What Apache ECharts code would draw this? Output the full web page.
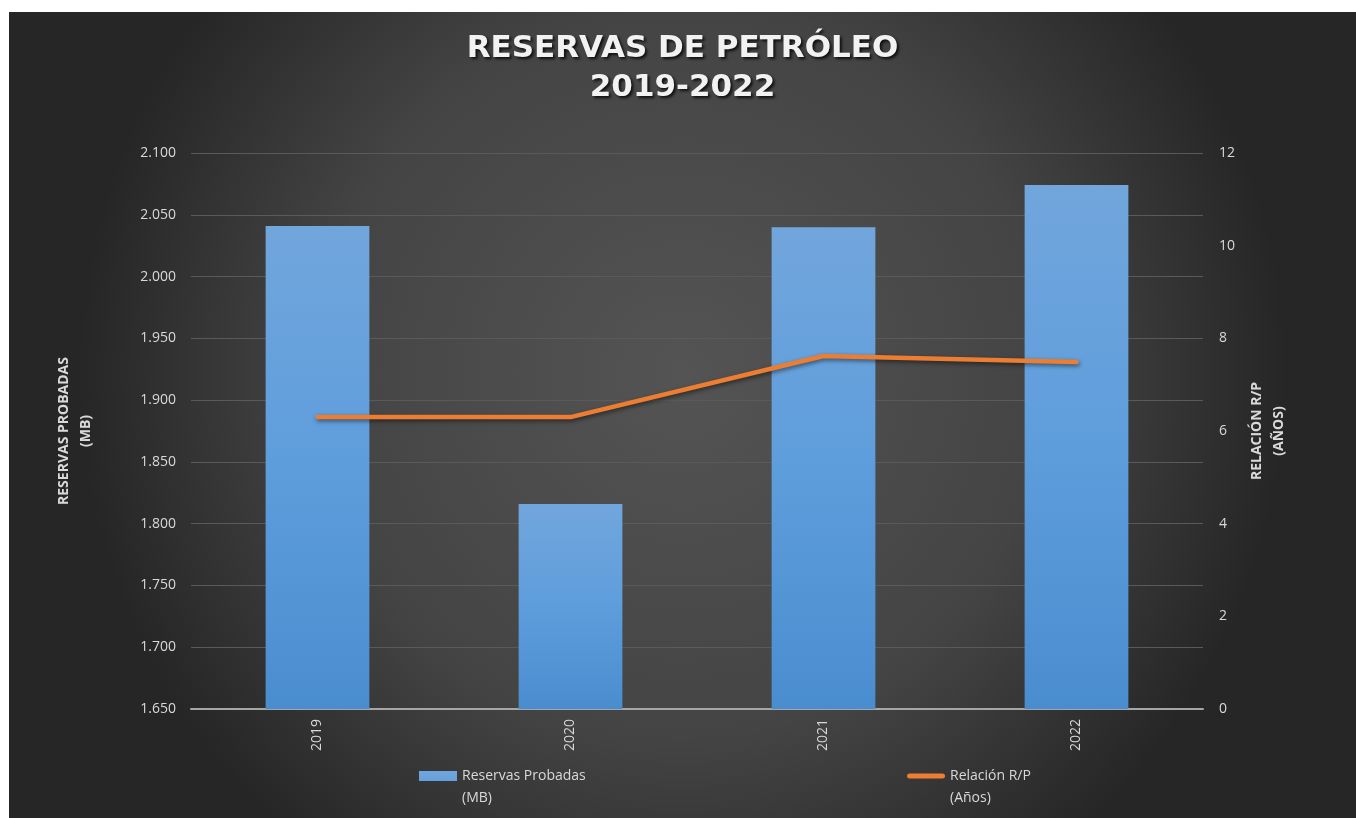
<!DOCTYPE html>
<html>
<head>
<meta charset="utf-8">
<script src="https://cdn.jsdelivr.net/npm/echarts@6/dist/echarts.min.js"></script>
<style>
  html, body { margin: 0; padding: 0; background: #ffffff; }
  #chart { position: absolute; left: 9px; top: 12px; width: 1347px; height: 806px; }
</style>
</head>
<body>
<div id="chart"></div>
<script>
const years = ['2019', '2020', '2021', '2022']
const reservas = [2.041, 1.816, 2.040, 2.074]
const relacionRP = [6.3, 6.3, 7.62, 7.49]
const leftTicks = { min: 1.65, max: 2.1, interval: 0.05 }
const rightTicks = { min: 0, max: 12, interval: 2 }

const chart = echarts.init(document.getElementById('chart'))
const LabelColor = '#d9d9d9'
const fontFamily = 'Open Sans, Calibri, sans-serif'

// legend icons sit on the first line of a two-line label, so the path bbox is padded downwards
const barIcon = 'path://M0,0 L38,0 L38,10 L0,10 Z M0,32 L0,32'
const lineIcon = 'path://M2.5,2.5 L35.5,2.5 A2.5,2.5 0 0 1 35.5,7.5 L2.5,7.5 A2.5,2.5 0 0 1 2.5,2.5 Z M0,0 L0,0 M0,32 L0,32'

const option = {
  backgroundColor: new echarts.graphic.RadialGradient(0.5, 0.45, 0.75, [
    { offset: 0, color: '#545454' },
    { offset: 0.6, color: '#444444' },
    { offset: 1, color: '#262626' }
  ]),
  textStyle: { fontFamily: fontFamily },
  title: {
    text: 'RESERVAS DE PETRÓLEO\n2019-2022',
    left: 'center',
    top: 12,
    textStyle: {
      color: '#f2f2f2',
      fontSize: 31,
      fontWeight: 'bold',
      lineHeight: 39,
      fontFamily: 'DejaVu Sans',
      textShadowColor: 'rgba(0,0,0,0.8)',
      textShadowBlur: 3,
      textShadowOffsetX: 2,
      textShadowOffsetY: 2
    }
  },
  grid: { left: 182, right: 153, top: 141, bottom: 109 },
  legend: [
    {
      left: 405,
      top: 748,
      itemWidth: 38,
      itemHeight: 32,
      itemStyle: { borderWidth: 0 },
      data: [{ name: 'Reservas Probadas', icon: barIcon }],
      formatter: () => 'Reservas Probadas\n(MB)',
      textStyle: { color: LabelColor, fontSize: 14, lineHeight: 22 }
    },
    {
      left: 893,
      top: 748,
      itemWidth: 38,
      itemHeight: 32,
      itemStyle: { borderWidth: 0 },
      data: [{ name: 'Relación R/P', icon: lineIcon }],
      formatter: () => 'Relación R/P\n(Años)',
      textStyle: { color: LabelColor, fontSize: 14, lineHeight: 22 }
    }
  ],
  xAxis: {
    type: 'category',
    data: years,
    axisLine: { lineStyle: { color: '#a6a6a6', width: 2 } },
    axisTick: { show: false },
    axisLabel: {
      color: LabelColor,
      fontSize: 14,
      rotate: 90,
      margin: 10
    }
  },
  yAxis: [
    {
      type: 'value',
      min: leftTicks.min,
      max: leftTicks.max,
      interval: leftTicks.interval,
      name: 'RESERVAS PROBADAS\n(MB)',
      nameLocation: 'middle',
      nameGap: 94,
      nameTextStyle: { color: LabelColor, fontSize: 14, fontWeight: 'bold', lineHeight: 22 },
      axisLabel: {
        color: LabelColor,
        fontSize: 14,
        margin: 15,
        formatter: (v) => v.toFixed(3)
      },
      axisLine: { show: false },
      axisTick: { show: false },
      splitLine: { lineStyle: { color: '#5a5a5a', width: 1 } }
    },
    {
      type: 'value',
      min: rightTicks.min,
      max: rightTicks.max,
      interval: rightTicks.interval,
      name: 'RELACIÓN R/P\n(AÑOS)',
      nameLocation: 'middle',
      nameGap: 38,
      nameRotate: 90,
      nameTextStyle: { color: LabelColor, fontSize: 14, fontWeight: 'bold', lineHeight: 22 },
      axisLabel: { color: LabelColor, fontSize: 14, margin: 16 },
      axisLine: { show: false },
      axisTick: { show: false },
      splitLine: { show: false }
    }
  ],
  series: [
    {
      name: 'Reservas Probadas',
      type: 'bar',
      data: reservas,
      barWidth: '41%',
      itemStyle: {
        color: new echarts.graphic.LinearGradient(0, 0, 0, 1, [
          { offset: 0, color: '#71a6dc' },
          { offset: 0.5, color: '#5e9ddc' },
          { offset: 1, color: '#4a8dcf' }
        ]),
        shadowColor: 'rgba(0,0,0,0.45)',
        shadowBlur: 4,
        shadowOffsetX: 1,
        shadowOffsetY: 1
      }
    },
    {
      name: 'Relación R/P',
      type: 'line',
      yAxisIndex: 1,
      data: relacionRP,
      showSymbol: false,
      symbol: 'none',
      itemStyle: { color: '#ed7d31' },
      lineStyle: {
        color: '#ed7d31',
        width: 4.5,
        cap: 'round',
        shadowColor: 'rgba(0,0,0,0.5)',
        shadowBlur: 4,
        shadowOffsetX: 1,
        shadowOffsetY: 2
      }
    }
  ]
}

chart.setOption(option)
window.addEventListener('resize', function () {
  chart.resize()
})
</script>
</body>
</html>
